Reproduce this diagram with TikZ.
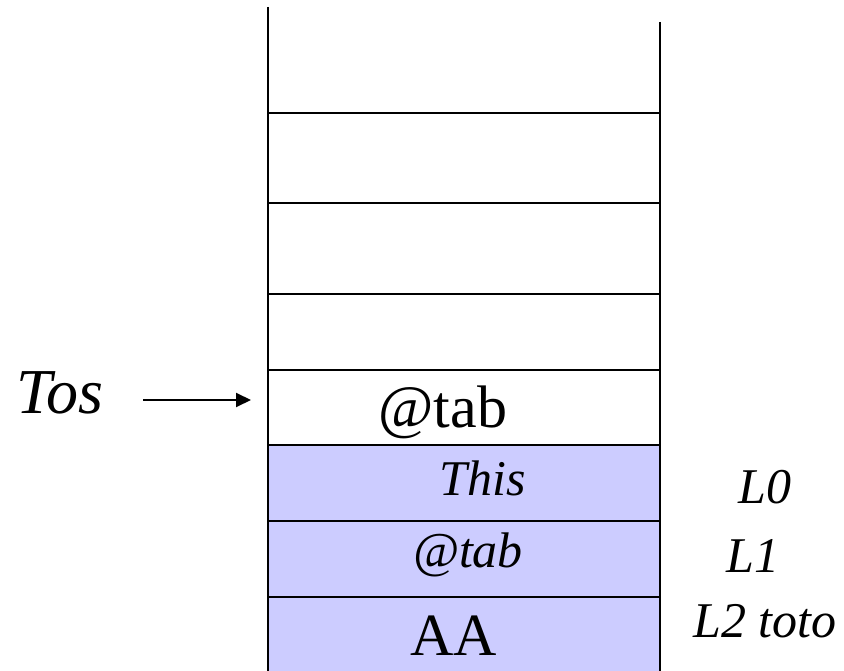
\documentclass[tikz,border=0pt]{standalone}
\usepackage{fontspec}
\setmainfont{Liberation Serif}
\usetikzlibrary{arrows.meta}
\definecolor{framebg}{HTML}{CCCCFF}
\tikzset{ptr/.style={line width=2pt, -{Triangle[length=15pt, width=14pt]}},
  cell/.style={draw, line width=2.2pt, minimum width=392pt, inner sep=0pt},
  big/.style={font=\fontsize{60}{70}\selectfont, anchor=base, inner sep=0pt},
  mid/.style={font=\fontsize{50}{60}\selectfont\itshape, anchor=base, inner sep=0pt}}

\begin{document}
\begin{tikzpicture}[x=1pt, y=-1pt]
  \useasboundingbox (0,0) rectangle (844,671);
  % open top of the stack
  \draw[line width=2.2pt] (268,7) -- (268,113);
  \draw[line width=2.2pt] (660,22) -- (660,113);
  % free slots
  \node[cell, minimum height=90pt] (s0) at (464,158) {};
  \node[cell, minimum height=91pt] (s1) at (464,248.5) {};
  \node[cell, minimum height=76pt] (s2) at (464,332) {};
  \node[cell, minimum height=75pt] (s3) at (464,407.5) {};
  % current frame
  \node[cell, fill=framebg, minimum height=76pt] (f0) at (464,483) {};
  \node[cell, fill=framebg, minimum height=76pt] (f1) at (464,559) {};
  \node[cell, fill=framebg, minimum height=90pt] (f2) at (464,642) {};
  % contents
  \node[big] (top) at (443,427) {@tab};
  \node[mid] (this) at (483,495) {This};
  \node[mid] (tab) at (468,567) {@tab};
  \node[big] (aa) at (454,655) {AA};
  % locals
  \node[mid] (l0) at (765,503) {L0};
  \node[mid] (l1) at (753,572) {L1};
  \node[mid] (l2) at (765,637) {L2 toto};
  % top of stack pointer
  \node[big, font=\fontsize{64}{74}\selectfont\itshape] (tos) at (60,413) {Tos};
  \coordinate (tail) at (143,400);
  \coordinate (tip) at (251,400);
  \draw[ptr] (tail) -- (tip);
\end{tikzpicture}
\end{document}
